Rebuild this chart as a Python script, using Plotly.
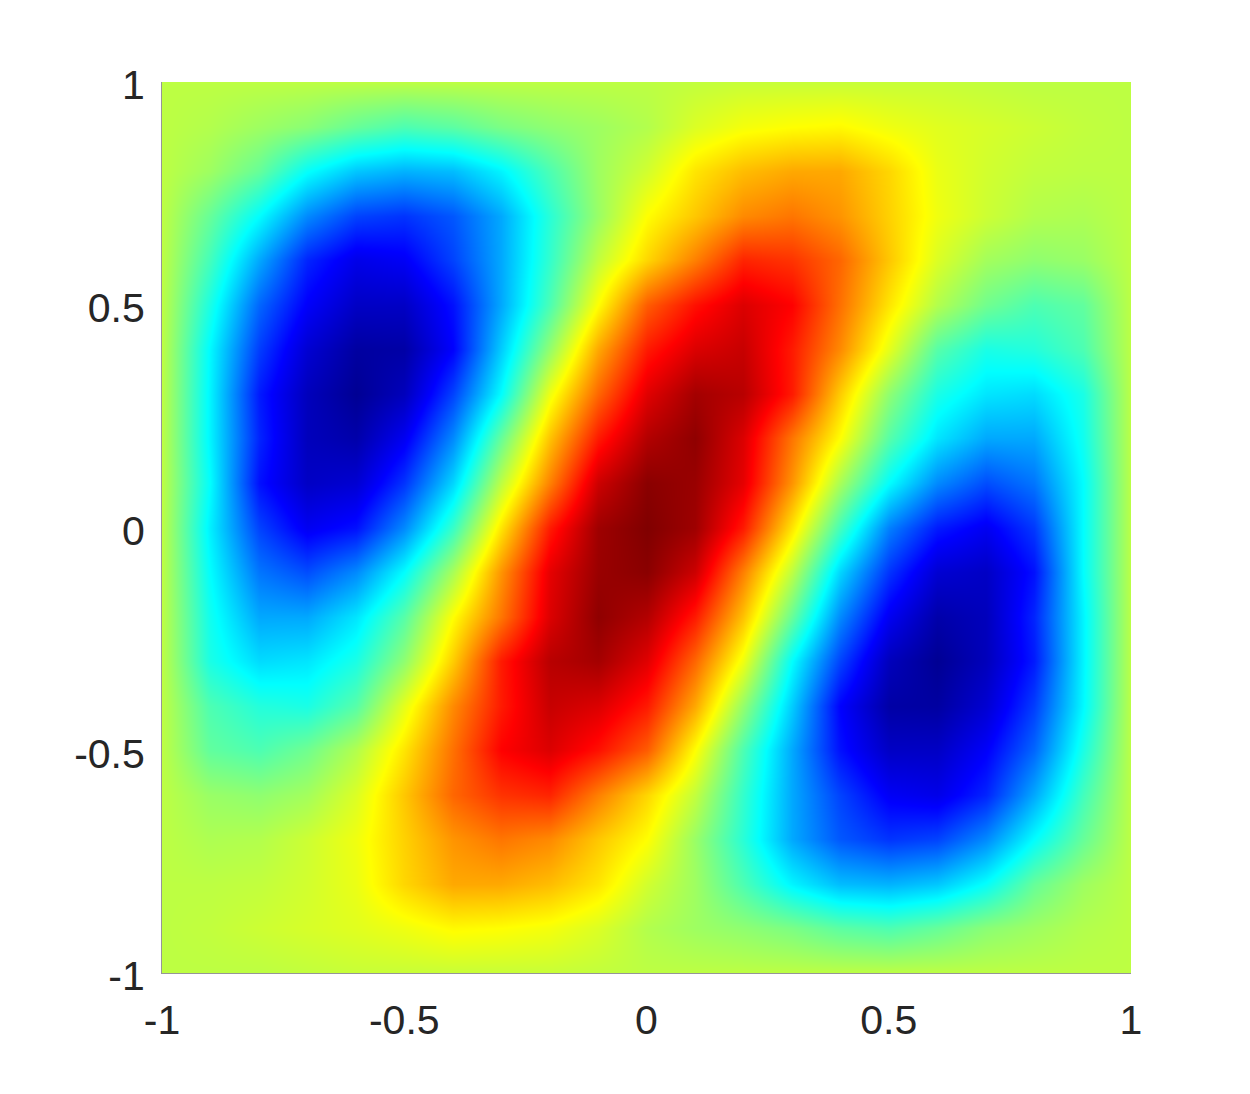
import plotly.graph_objects as go

# grid positions in steps of 0.1
x_pos = [-1.0, -0.9, -0.8, -0.7, -0.6, -0.5, -0.4, -0.3, -0.2, -0.1, 0.0,
         0.1, 0.2, 0.3, 0.4, 0.5, 0.6, 0.7, 0.8, 0.9, 1.0]
y_pos = [-1.0, -0.9, -0.8, -0.7, -0.6, -0.5, -0.4, -0.3, -0.2, -0.1, 0.0,
         0.1, 0.2, 0.3, 0.4, 0.5, 0.6, 0.7, 0.8, 0.9, 1.0]

# one row per y value, estimated from the colours
row_m10 = [.12, .12, .12, .13, .14, .14, .14, .14, .14, .13, .12, .12, .12, .12, .12, .12, .12, .12, .12, .12, .12]
row_m09 = [.12, .13, .15, .17, .19, .22, .26, .25, .23, .18, .1, .06, .03, -.01, -.07, -.1, -.05, .02, .06, .1, .12]
row_m08 = [.12, .12, .13, .16, .21, .33, .42, .42, .38, .3, .16, .06, -.1, -.27, -.38, -.4, -.36, -.24, -.05, .06, .12]
row_m07 = [.12, .09, .1, .15, .22, .34, .46, .52, .48, .36, .25, .05, -.17, -.42, -.58, -.65, -.62, -.48, -.25, -.05, .12]
row_m06 = [.12, .05, .03, .07, .18, .36, .55, .65, .68, .5, .33, .13, -.15, -.42, -.62, -.77, -.8, -.68, -.42, -.12, .12]
row_m05 = [.12, -.06, -.1, -.03, .1, .3, .53, .75, .82, .72, .57, .25, -.1, -.42, -.72, -.88, -.88, -.76, -.55, -.2, .12]
row_m04 = [.12, -.1, -.18, -.2, -.08, .2, .48, .7, .86, .82, .7, .42, .04, -.35, -.75, -.95, -.96, -.85, -.63, -.26, .12]
row_m03 = [.12, -.2, -.32, -.3, -.2, .03, .35, .7, .89, .93, .81, .55, .22, -.25, -.62, -.9, -.99, -.9, -.7, -.27, .12]
row_m02 = [.12, -.22, -.42, -.42, -.3, -.08, .25, .52, .82, .97, .9, .7, .37, -.05, -.48, -.78, -.94, -.9, -.68, -.27, .12]
row_m01 = [.12, -.25, -.52, -.6, -.48, -.25, .08, .46, .8, .95, .98, .85, .5, .12, -.33, -.65, -.85, -.88, -.72, -.25, .12]
row_000 = [.12, -.28, -.62, -.78, -.72, -.48, -.14, .3, .7, .94, 1.0, .94, .7, .3, -.12, -.5, -.7, -.78, -.64, -.25, .12]
row_p01 = [.12, -.25, -.72, -.88, -.85, -.65, -.33, .12, .5, .85, .98, .95, .8, .46, .08, -.25, -.48, -.6, -.52, -.25, .12]
row_p02 = [.12, -.27, -.68, -.9, -.94, -.78, -.48, -.05, .37, .7, .9, .97, .82, .52, .25, -.08, -.3, -.42, -.42, -.22, .12]
row_p03 = [.12, -.27, -.7, -.9, -.99, -.9, -.62, -.25, .22, .55, .81, .93, .89, .7, .35, .03, -.2, -.3, -.32, -.2, .12]
row_p04 = [.12, -.26, -.63, -.85, -.96, -.95, -.75, -.35, .04, .42, .7, .82, .86, .7, .48, .2, -.08, -.2, -.18, -.1, .12]
row_p05 = [.12, -.2, -.55, -.76, -.88, -.88, -.72, -.42, -.1, .25, .57, .72, .82, .75, .53, .3, .1, -.03, -.1, -.06, .12]
row_p06 = [.12, -.12, -.42, -.68, -.8, -.77, -.62, -.42, -.15, .13, .33, .5, .68, .65, .55, .36, .18, .07, .03, .05, .12]
row_p07 = [.12, -.05, -.25, -.48, -.62, -.65, -.58, -.42, -.17, .05, .25, .36, .48, .52, .46, .34, .22, .15, .1, .09, .12]
row_p08 = [.12, .06, -.05, -.24, -.36, -.4, -.38, -.27, -.1, .06, .16, .3, .38, .42, .42, .33, .21, .16, .13, .12, .12]
row_p09 = [.12, .1, .06, .02, -.05, -.1, -.07, -.01, .03, .06, .1, .18, .23, .25, .26, .22, .19, .17, .15, .13, .12]
row_p10 = [.12, .12, .12, .12, .12, .12, .12, .12, .12, .12, .12, .13, .14, .14, .14, .14, .14, .13, .12, .12, .12]

z_rows = [row_m10, row_m09, row_m08, row_m07, row_m06, row_m05, row_m04,
          row_m03, row_m02, row_m01, row_000, row_p01, row_p02, row_p03,
          row_p04, row_p05, row_p06, row_p07, row_p08, row_p09, row_p10]

tick_vals = [-1, -0.5, 0, 0.5, 1]
tick_text = ["-1", "-0.5", "0", "0.5", "1"]

# matlab style jet
jet = [
    [0.0, "rgb(0,0,143)"],
    [0.125, "rgb(0,0,255)"],
    [0.375, "rgb(0,255,255)"],
    [0.625, "rgb(255,255,0)"],
    [0.875, "rgb(255,0,0)"],
    [1.0, "rgb(128,0,0)"],
]

fig = go.Figure(
    go.Heatmap(
        x=x_pos,
        y=y_pos,
        z=z_rows,
        zmin=-1,
        zmax=1,
        zsmooth="best",
        colorscale=jet,
        showscale=False,
    )
)

# ticks sit under the image, only the ones on the edge stick out
axis_style = dict(
    range=[-1, 1],
    tickmode="array",
    tickvals=tick_vals,
    ticktext=tick_text,
    ticks="inside",
    ticklen=10,
    tickwidth=1,
    tickcolor="#969696",
    showline=True,
    linecolor="#969696",
    linewidth=1,
    showgrid=False,
    zeroline=False,
    layer="below traces",
    tickfont=dict(family="Liberation Sans", size=41, color="#262626"),
)
fig.update_xaxes(**axis_style, ticklabelstandoff=11, ticklabelshift=0)
fig.update_yaxes(**axis_style, ticklabelstandoff=8, ticklabelshift=3)

# the page body keeps its 8px margin
fig.update_layout(
    width=1234,
    height=1078,
    margin=dict(l=154, r=111, t=74, b=113),
    paper_bgcolor="white",
    plot_bgcolor="white",
)

fig.write_html("out.html")
